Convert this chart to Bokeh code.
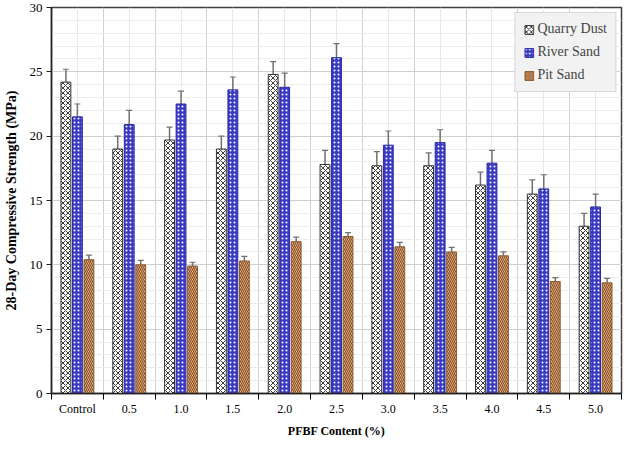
from bokeh.plotting import figure
from bokeh.models import FixedTicker, Whisker, TeeHead, ColumnDataSource
from bokeh.embed import file_html
from bokeh.resources import INLINE

categories = ["Control", "0.5", "1.0", "1.5", "2.0", "2.5", "3.0", "3.5", "4.0", "4.5", "5.0"]
quarry_dust = [24.2, 19.0, 19.7, 19.0, 24.8, 17.8, 17.7, 17.7, 16.2, 15.5, 13.0]
river_sand = [21.5, 20.9, 22.5, 23.6, 23.8, 26.1, 19.3, 19.5, 17.9, 15.9, 14.5]
pit_sand = [10.4, 10.0, 9.9, 10.3, 11.8, 12.2, 11.4, 11.0, 10.7, 8.7, 8.6]
quarry_dust_err = [1.0, 1.0, 1.0, 1.0, 1.0, 1.1, 1.1, 1.0, 1.0, 1.1, 1.0]
river_sand_err = [1.0, 1.1, 1.0, 1.0, 1.1, 1.1, 1.1, 1.0, 1.0, 1.1, 1.0]
pit_sand_err = [0.35, 0.35, 0.3, 0.35, 0.35, 0.3, 0.35, 0.35, 0.3, 0.3, 0.35]

series = [
    ("Quarry Dust", quarry_dust, quarry_dust_err, -0.222,
     dict(fill_color="white", hatch_pattern="x", hatch_color="#3a3a3a", hatch_scale=5, hatch_weight=1,
          line_color="#303030")),
    ("River Sand", river_sand, river_sand_err, 0.0,
     dict(fill_color="#3a3ac4", hatch_pattern=".", hatch_color="white", hatch_scale=4, hatch_weight=2,
          line_color="#2a2aa0")),
    ("Pit Sand", pit_sand, pit_sand_err, 0.222,
     dict(fill_color="#f2cfa0", hatch_pattern="\\", hatch_color="#8a4a20", hatch_scale=4, hatch_weight=1.2,
          line_color="#8a5a30")),
]

FONT = "Liberation Serif"

p = figure(width=624, height=440, x_range=(0, len(categories)), y_range=(0, 30),
           output_backend="svg", toolbar_location=None,
           min_border_left=40, min_border_right=3, min_border_top=7, min_border_bottom=40)

for name, vals, errs, off, style in series:
    xs = [i + 0.5 + off for i in range(len(categories))]
    src = ColumnDataSource(dict(x=xs, top=vals, upper=[v + e for v, e in zip(vals, errs)]))
    p.vbar(x="x", top="top", width=0.19, bottom=0, source=src, line_width=1, legend_label=name, **style)
    w = Whisker(source=src, base="x", upper="upper", lower="top",
                upper_head=TeeHead(size=6, line_color="#707070", line_width=1.2),
                lower_head=None, line_color="#707070", line_width=1.5)
    p.add_layout(w)

# axes
p.xaxis.ticker = FixedTicker(ticks=[i + 0.5 for i in range(len(categories))],
                             minor_ticks=list(range(len(categories) + 1)))
p.xaxis.major_label_overrides = {i + 0.5: c for i, c in enumerate(categories)}
p.xaxis.major_tick_out = 0
p.xaxis.major_tick_in = 0
p.xaxis.minor_tick_line_color = "black"
p.xaxis.minor_tick_out = 6
p.xaxis.minor_tick_in = 0
p.xaxis.major_label_standoff = 2
p.xaxis.axis_label = "PFBF Content (%)"
p.xaxis.axis_label_standoff = 5

p.yaxis.ticker = FixedTicker(ticks=list(range(0, 31, 5)), minor_ticks=list(range(0, 31)))
p.yaxis.minor_tick_line_color = None
p.yaxis.major_tick_out = 5
p.yaxis.major_tick_in = 0
p.yaxis.major_label_standoff = 4
p.yaxis.axis_label = "28-Day Compressive Strength (MPa)"
p.yaxis.axis_label_standoff = 8

for ax in (p.xaxis, p.yaxis):
    ax.axis_line_color = "#202020"
    ax.axis_line_width = 1.5
    ax.major_label_text_font = FONT
    ax.major_label_text_color = "black"
    ax.axis_label_text_font = FONT
    ax.axis_label_text_font_style = "bold"
    ax.axis_label_text_color = "black"
p.xaxis.major_label_text_font_size = "12px"
p.yaxis.major_label_text_font_size = "13px"
p.xaxis.axis_label_text_font_size = "12px"
p.yaxis.axis_label_text_font_size = "14px"
p.xaxis.major_tick_line_color = None
p.yaxis.major_tick_line_color = "#202020"

# grids
p.xgrid.grid_line_color = "#e8e8e8"
p.xgrid.minor_grid_line_color = "#d0d0d0"
p.ygrid.grid_line_color = "#d0d0d0"
p.ygrid.minor_grid_line_color = "#ececec"

p.outline_line_color = "#404040"
p.outline_line_width = 1.5
p.background_fill_color = "white"

# legend
lg = p.legend[0]
lg.location = "top_right"
lg.margin = 5
lg.padding = 8
lg.spacing = 7
lg.glyph_width = 11
lg.glyph_height = 11
lg.label_text_font = FONT
lg.label_text_font_size = "14px"
lg.label_standoff = 3
lg.background_fill_color = "#f2f2f2"
lg.background_fill_alpha = 1
lg.border_line_color = "#bdbdbd"
lg.border_line_width = 1

open("out.html", "w").write(file_html(p, INLINE))
